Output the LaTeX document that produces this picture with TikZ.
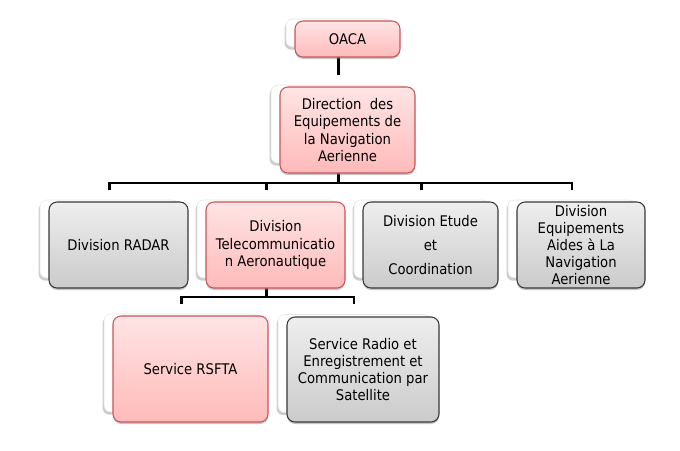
\documentclass[tikz,border=0pt]{standalone}
\usepackage{fontspec}
\newfontfamily\boxfont{DejaVu Sans}[FakeStretch=0.9]
\usetikzlibrary{shadows}

\definecolor{pinktop}{HTML}{FFE4E4}
\definecolor{pinkbot}{HTML}{FFBABA}
\definecolor{boxred}{HTML}{C8555A}
\definecolor{graytop}{HTML}{EEEEEE}
\definecolor{graybot}{HTML}{CBCBCB}
\definecolor{boxdark}{HTML}{383838}

\tikzset{
  card/.style={rounded corners=5pt, fill=white, draw=gray!20, line width=0.4pt,
    drop shadow={shadow xshift=-1pt, shadow yshift=-2pt, fill=gray!80, opacity=0.5}},
  orgbox/.style={rounded corners=6pt, line width=0.8pt, align=center, inner sep=0pt,
    font=\boxfont\fontsize{11pt}{12.8pt}\selectfont,
    drop shadow={shadow xshift=0pt, shadow yshift=-1.5pt, fill=gray, opacity=0.45}},
  pinkbox/.style={orgbox, draw=boxred, top color=pinktop, bottom color=pinkbot},
  graybox/.style={orgbox, draw=boxdark, top color=graytop, bottom color=graybot},
  conn/.style={line width=1.9pt, black},
}

\begin{document}
\begin{tikzpicture}[x=0.75pt, y=-0.75pt]
  \useasboundingbox (0,0) rectangle (680,450);

  % cards behind the boxes
  \node[card, minimum width=78.75pt, minimum height=21pt] (oaca-b) at (338.5,33) {};
  \node[card, minimum width=101.25pt, minimum height=58.5pt] (dir-b) at (338.5,124) {};
  \node[card, minimum width=104.25pt, minimum height=58.5pt] (radar-b) at (109.5,239) {};
  \node[card, minimum width=104.25pt, minimum height=58.5pt] (telecom-b) at (266.5,239) {};
  \node[card, minimum width=101.25pt, minimum height=58.5pt] (etude-b) at (421.5,239) {};
  \node[card, minimum width=96pt, minimum height=58.5pt] (equip-b) at (572,239) {};
  \node[card, minimum width=116.25pt, minimum height=73.5pt] (rsfta-b) at (181.5,363) {};
  \node[card, minimum width=114pt, minimum height=73.5pt] (radio-b) at (354,363.5) {};

  % connectors
  \draw[conn] (oaca-b.south) -- ([yshift=7.5pt]dir-b.north);
  \foreach \c in {radar,telecom,etude,equip}
    \draw[conn] (dir-b.south) -- (dir-b.south |- 0,183) -| ([yshift=7.5pt]\c-b.north);
  \foreach \c in {rsfta,radio}
    \draw[conn] (telecom-b.south) -- (telecom-b.south |- 0,297) -| ([yshift=7.5pt]\c-b.north);

  % boxes
  \node[pinkbox, minimum width=78.75pt, minimum height=27pt] (oaca) at (347.5,39) {OACA};
  \node[pinkbox, minimum width=101.25pt, minimum height=64.5pt] (dir) at (347.5,130)
    {Direction~ des\\Equipements de\\la Navigation\\Aerienne};
  \node[graybox, minimum width=104.25pt, minimum height=64.5pt] (radar) at (118.5,245) {Division RADAR};
  \node[pinkbox, minimum width=104.25pt, minimum height=64.5pt] (telecom) at (275.5,245)
    {Division\\Telecommunicatio\\n Aeronautique};
  \node[graybox, minimum width=101.25pt, minimum height=64.5pt] (etude) at (430.5,245)
    {Division Etude\\[5pt]et\\[5pt]Coordination};
  \node[graybox, minimum width=96pt, minimum height=64.5pt] (equip) at (581,245)
    {Division\\Equipements\\Aides à La\\Navigation\\Aerienne};
  \node[pinkbox, minimum width=116.25pt, minimum height=79.5pt] (rsfta) at (190.5,369) {Service RSFTA};
  \node[graybox, minimum width=114pt, minimum height=78.75pt] (radio) at (363,369.5)
    {Service Radio et\\Enregistrement et\\Communication par\\Satellite};
\end{tikzpicture}
\end{document}
